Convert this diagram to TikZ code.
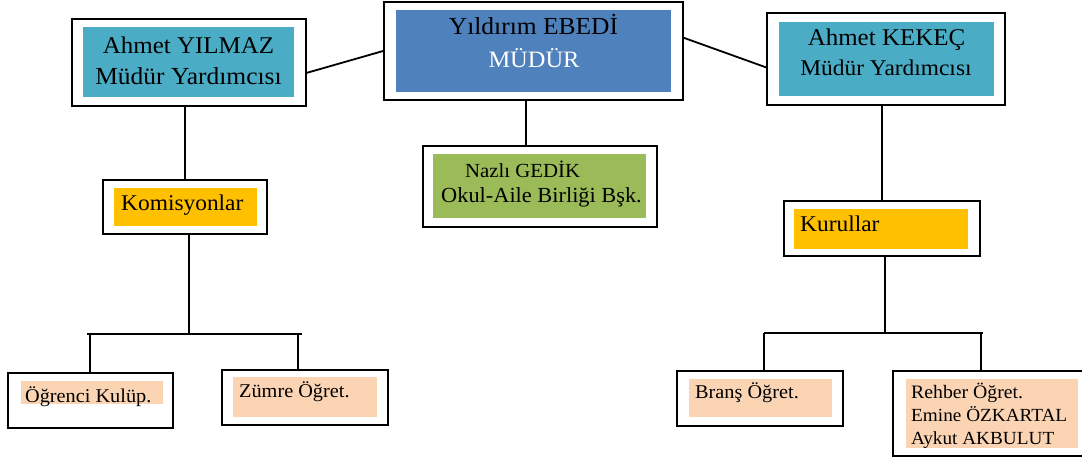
\documentclass[tikz,border=0pt]{standalone}
\usepackage{fontspec}
\setmainfont{Liberation Serif}[FakeStretch=1.04]
\usetikzlibrary{positioning}

\definecolor{cyanfill}{HTML}{4BACC6}
\definecolor{bluefill}{HTML}{4F81BD}
\definecolor{goldfill}{HTML}{FFC000}
\definecolor{greenfill}{HTML}{9BBB59}
\definecolor{peachfill}{HTML}{FBD4B4}

\newcommand{\sz}[1]{\fontsize{#1}{#1}\selectfont}

\tikzset{
  box/.style={draw, line width=1.8pt, inner sep=0pt},
  fillbox/.style={fill=#1, inner sep=0pt},
  txt/.style={inner sep=0pt, anchor=base},
  ltxt/.style={inner sep=0pt, anchor=base west},
  link/.style={line width=1.8pt}
}

\begin{document}
\begin{tikzpicture}[x=1pt, y=-1pt]
\useasboundingbox (0,0) rectangle (1082,459);

% frames
\node [box, minimum width=234pt, minimum height=87pt] (yilmaz) at (189,62.5) {};
\node [box, minimum width=299pt, minimum height=98pt] (ebedi) at (533.5,51) {};
\node [box, minimum width=238pt, minimum height=92pt] (kekec) at (886,59) {};
\node [box, minimum width=164pt, minimum height=54pt] (komisyon) at (185,207) {};
\node [box, minimum width=234pt, minimum height=81pt] (gedik) at (540,186.5) {};
\node [box, minimum width=196pt, minimum height=55pt] (kurul) at (882,228.5) {};
\node [box, minimum width=165pt, minimum height=55pt] (ogrenci) at (90.5,400.5) {};
\node [box, minimum width=166pt, minimum height=55pt] (zumre) at (305,397.5) {};
\node [box, minimum width=166pt, minimum height=55pt] (brans) at (760,398.5) {};
\node [box, minimum width=193pt, minimum height=85pt] (rehber) at (989.5,413.5) {};

% fills
\node [fillbox=cyanfill, minimum width=211pt, minimum height=70pt] (yilmaz-fill) at (188.5,62) {};
\node [fillbox=bluefill, minimum width=275pt, minimum height=82pt] (ebedi-fill) at (533.5,51) {};
\node [fillbox=cyanfill, minimum width=215pt, minimum height=74pt] (kekec-fill) at (886.5,59) {};
\node [fillbox=goldfill, minimum width=143pt, minimum height=38pt] (komisyon-fill) at (185.5,207) {};
\node [fillbox=greenfill, minimum width=213pt, minimum height=64pt] (gedik-fill) at (539.5,186) {};
\node [fillbox=goldfill, minimum width=174pt, minimum height=40pt] (kurul-fill) at (881,229) {};
\node [fillbox=peachfill, minimum width=142pt, minimum height=23pt] (ogrenci-fill) at (92,392.5) {};
\node [fillbox=peachfill, minimum width=144pt, minimum height=40pt] (zumre-fill) at (305,397) {};
\node [fillbox=peachfill, minimum width=143pt, minimum height=38pt] (brans-fill) at (760.5,398) {};
\node [fillbox=peachfill, minimum width=172pt, minimum height=69pt] (rehber-fill) at (992,413.5) {};

% texts
\node [txt, font=\sz{24}] (yilmaz-name) at (188.5,53) {Ahmet YILMAZ};
\node [txt, font=\sz{24.5}] (yilmaz-role) at (188.5,84) {Müdür Yardımcısı};
\node [txt, font=\sz{24.5}] (ebedi-name) at (533.5,34) {Yıldırım EBEDİ};
\node [txt, font=\sz{23.5}, text=white] (ebedi-role) at (534,67) {MÜDÜR};
\node [txt, font=\sz{24}] (kekec-name) at (886.5,45) {Ahmet KEKEÇ};
\node [txt, font=\sz{22.5}] (kekec-role) at (886,75) {Müdür Yardımcısı};
\node [ltxt, font=\sz{20}] (gedik-name) at (465,177) {Nazlı GEDİK};
\node [ltxt, font=\sz{21.5}] (gedik-role) at (441,202) {Okul-Aile Birliği Bşk.};
\node [ltxt, font=\sz{22.5}] (komisyon-text) at (121,210) {Komisyonlar};
\node [ltxt, font=\sz{22.5}] (kurul-text) at (800,231) {Kurullar};
\node [ltxt, font=\sz{19.5}] (ogrenci-text) at (25,402) {Öğrenci Kulüp.};
\node [ltxt, font=\sz{19.5}] (zumre-text) at (239,397) {Zümre Öğret.};
\node [ltxt, font=\sz{19.5}] (brans-text) at (695,398) {Branş Öğret.};
\node [ltxt, font=\sz{19}] (rehber-l1) at (911,398) {Rehber Öğret.};
\node [ltxt, font=\sz{18.5}] (rehber-l2) at (911,421) {Emine ÖZKARTAL};
\node [ltxt, font=\sz{18.5}] (rehber-l3) at (911,444) {Aykut AKBULUT};

% links
\draw [link] (yilmaz.-5) -- (ebedi.west);
\draw [link] (ebedi.5) -- (kekec.184);
\draw [link] (ebedi.-99) -- (ebedi.-99 |- gedik.north);
\draw [link] (komisyon.north |- yilmaz.south) -- (komisyon.north);
\draw [link] (kurul.north |- kekec.south) -- (kurul.north);

\coordinate (kom-bus) at (189,334);
\coordinate (kom-l) at (87,334);
\coordinate (kom-r) at (302,334);
\coordinate (ogr-drop) at (90,334);
\coordinate (zum-drop) at (298,334);
\draw [link] (komisyon.south -| kom-bus) -- (kom-bus);
\draw [link] (kom-l) -- (kom-r);
\draw [link] (ogr-drop) -- (ogr-drop |- ogrenci.north);
\draw [link] (zum-drop) -- (zum-drop |- zumre.north);

\coordinate (kur-bus) at (885,333);
\coordinate (kur-l) at (764,333);
\coordinate (kur-r) at (983,333);
\coordinate (bra-drop) at (764,333);
\coordinate (reh-drop) at (981,333);
\draw [link] (kurul.south -| kur-bus) -- (kur-bus);
\draw [link] (kur-l) -- (kur-r);
\draw [link] (bra-drop) -- (bra-drop |- brans.north);
\draw [link] (reh-drop) -- (reh-drop |- rehber.north);
\end{tikzpicture}
\end{document}
